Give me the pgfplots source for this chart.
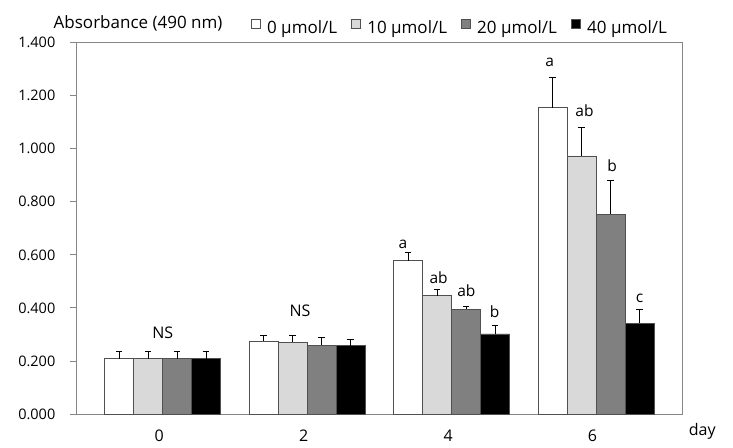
\documentclass[border=0pt]{standalone}
\usepackage{fontspec}
\setmainfont{Open Sans}
\usepackage{pgfplots}
\pgfplotsset{compat=1.18}

\definecolor{lgray}{RGB}{217,217,217}
\definecolor{dgray}{RGB}{128,128,128}
\definecolor{framegray}{RGB}{134,134,134}
\definecolor{edge}{RGB}{80,80,80}

\pgfplotsset{
  sqlegend/.style={legend image code/.code={\draw[##1, draw=edge, line width=0.8pt] (0pt,5.2pt) rectangle (8.8pt,14pt);}},
  barstyle/.style={draw=edge, line width=0.8pt, sqlegend,
    /pgfplots/error bars/y dir=plus, /pgfplots/error bars/y explicit,
    /pgfplots/error bars/error mark=-,
    /pgfplots/error bars/error bar style={line width=0.9pt, draw=black},
    /pgfplots/error bars/error mark options={rotate=90, mark size=3.3pt, line width=0.9pt, draw=black}},
}

\begin{document}
\begin{tikzpicture}
\useasboundingbox (0,0) rectangle (733pt,447pt);
\begin{axis}[
  at={(76pt,33pt)}, anchor=south west,
  scale only axis, width=606.7pt, height=371.3pt,
  ybar=0pt, bar width=29pt,
  xmin=-0.6, xmax=3.6, ymin=0, ymax=1.4,
  xtick={0,1,2,3}, xticklabels={0,2,4,6},
  ytick={0,0.2,0.4,0.6,0.8,1.0,1.2,1.4},
  /pgf/number format/assume math mode=true,
  yticklabel style={/pgf/number format/fixed, /pgf/number format/fixed zerofill, /pgf/number format/precision=3,
    anchor=east, inner sep=0pt, xshift=-14.5pt, font=\fontsize{14.5}{17}\selectfont},
  xticklabel style={anchor=base, inner sep=0pt, yshift=-21.3pt, xshift=-3.5pt, font=\fontsize{16}{19}\selectfont},
  axis line style={draw=framegray, line width=0.9pt},
  tick align=outside, ytick pos=left, xtick pos=bottom,
  major tick length=6pt,
  ytick style={draw=framegray, line width=0.9pt},
  xtick style={draw=none},
  title={Absorbance (490 nm)},
  title style={at={(rel axis cs:0,1)}, anchor=base west, inner sep=0pt, xshift=-22.5pt, yshift=8pt, font=\fontsize{17}{20}\selectfont},
  xlabel={day},
  xlabel style={at={(rel axis cs:1,0)}, anchor=base west, inner sep=0pt, xshift=6pt, yshift=-21.3pt, font=\fontsize{16}{19}\selectfont},
  legend columns=4,
  legend cell align=left,
  legend style={draw=none, fill=none, inner sep=0pt, outer sep=0pt,
    at={(rel axis cs:0,1)}, anchor=north west, xshift=175pt, yshift=24.2pt,
    font=\fontsize{17}{20}\selectfont, nodes={inner sep=0pt, anchor=base west, text height=15pt},
    /tikz/every odd column/.append style={column sep=6.5pt},
    /tikz/every even column/.append style={column sep=14pt}},
  /tikz/every legend entry/.append style={anchor=base west, text height=15pt, inner sep=0pt},
]
\addplot[barstyle, fill=white] coordinates {
  (0,0.209) +- (0,0.026)
  (1,0.275) +- (0,0.020)
  (2,0.578) +- (0,0.030)
  (3,1.155) +- (0,0.113)};
\addlegendentry{0 μmol/L}
\addplot[barstyle, fill=lgray] coordinates {
  (0,0.209) +- (0,0.026)
  (1,0.270) +- (0,0.028)
  (2,0.446) +- (0,0.024)
  (3,0.973) +- (0,0.107)};
\addlegendentry{10 μmol/L}
\addplot[barstyle, fill=dgray] coordinates {
  (0,0.209) +- (0,0.026)
  (1,0.260) +- (0,0.029)
  (2,0.395) +- (0,0.010)
  (3,0.754) +- (0,0.128)};
\addlegendentry{20 μmol/L}
\addplot[barstyle, fill=black] coordinates {
  (0,0.209) +- (0,0.026)
  (1,0.257) +- (0,0.025)
  (2,0.302) +- (0,0.032)
  (3,0.343) +- (0,0.053)};
\addlegendentry{40 μmol/L}

\begin{scope}[every node/.style={inner sep=0pt, font=\fontsize{15.5}{18}\selectfont}]
\node at (axis cs:0,0.308) {\fontsize{16}{19}\selectfont NS};
\node at (axis cs:0.951,0.39) {\fontsize{16}{19}\selectfont NS};
\node at (axis cs:1.664,0.641) {a};
\node at (axis cs:1.910,0.515) {ab};
\node at (axis cs:2.102,0.464) {ab};
\node at (axis cs:2.298,0.386) {b};
\node at (axis cs:2.679,1.325) {a};
\node at (axis cs:2.920,1.143) {ab};
\node at (axis cs:3.112,0.935) {b};
\node at (axis cs:3.301,0.436) {c};
\end{scope}
\end{axis}
\end{tikzpicture}
\end{document}
